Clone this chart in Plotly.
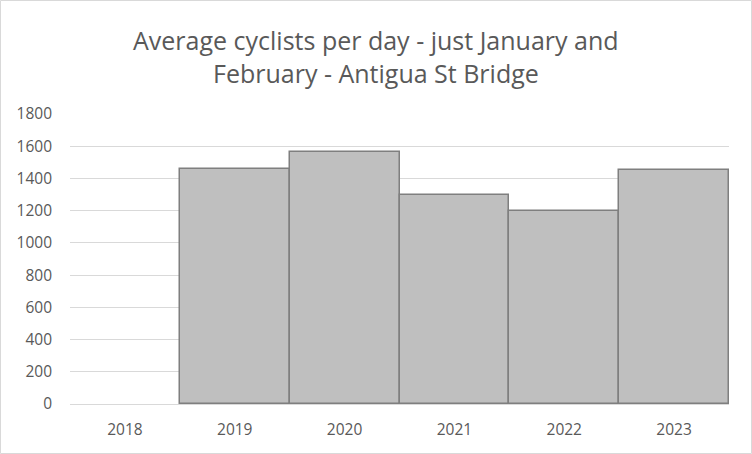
import plotly.graph_objects as go

years = ["2018", "2019", "2020", "2021", "2022", "2023"]
avg_cyclists = [None, 1461, 1567, 1300, 1195, 1455]
y_ticks = [0, 200, 400, 600, 800, 1000, 1200, 1400, 1600, 1800]
title_lines = ["Average cyclists per day - just January and", "February - Antigua St Bridge"]

W, H = 752, 454
ml, mr, mt, mb = 70, 23, 114, 50
pw, ph = W - ml - mr, H - mt - mb

fig = go.Figure(go.Bar(
    x=years, y=avg_cyclists,
    marker=dict(color="#bfbfbf", line=dict(color="#7f7f7f", width=1.5)),
))

title_centers_px = [40, 73]
annotations = [
    dict(text=t, xref="paper", yref="paper", x=(W / 2 - ml) / pw,
         y=(H - mb - cy) / ph, xanchor="center", yanchor="middle", showarrow=False,
         font=dict(size=25, color="#595959"))
    for t, cy in zip(title_lines, title_centers_px)
]

fig.update_layout(
    width=W, height=H,
    margin=dict(l=ml, r=mr, t=mt, b=mb),
    paper_bgcolor="white", plot_bgcolor="white",
    bargap=0,
    font=dict(family="Open Sans, sans-serif", color="#595959", size=14),
    annotations=annotations,
    showlegend=False,
    xaxis=dict(showgrid=False, showline=False, ticks="", tickfont=dict(size=15.5)),
    yaxis=dict(range=[0, 1800], tickvals=y_ticks, showgrid=True, gridcolor="#d9d9d9",
               gridwidth=1, zeroline=True, zerolinecolor="#d9d9d9", zerolinewidth=1,
               showline=False, ticks="", ticklen=0, tickfont=dict(size=15.5)),
    shapes=[dict(
        type="rect", xref="paper", yref="paper",
        x0=(0.5 - ml) / pw, x1=(W - 0.5 - ml) / pw,
        y0=(H - mb - (H - 0.5)) / ph, y1=(H - mb - 0.5) / ph,
        line=dict(color="#d9d9d9", width=1), layer="below",
    )],
)
fig.update_xaxes(ticklabelstandoff=14)
fig.update_yaxes(ticklabelstandoff=17)

fig.write_html("out.html", config={"displayModeBar": False},
               post_script="document.body.style.margin='0';")
